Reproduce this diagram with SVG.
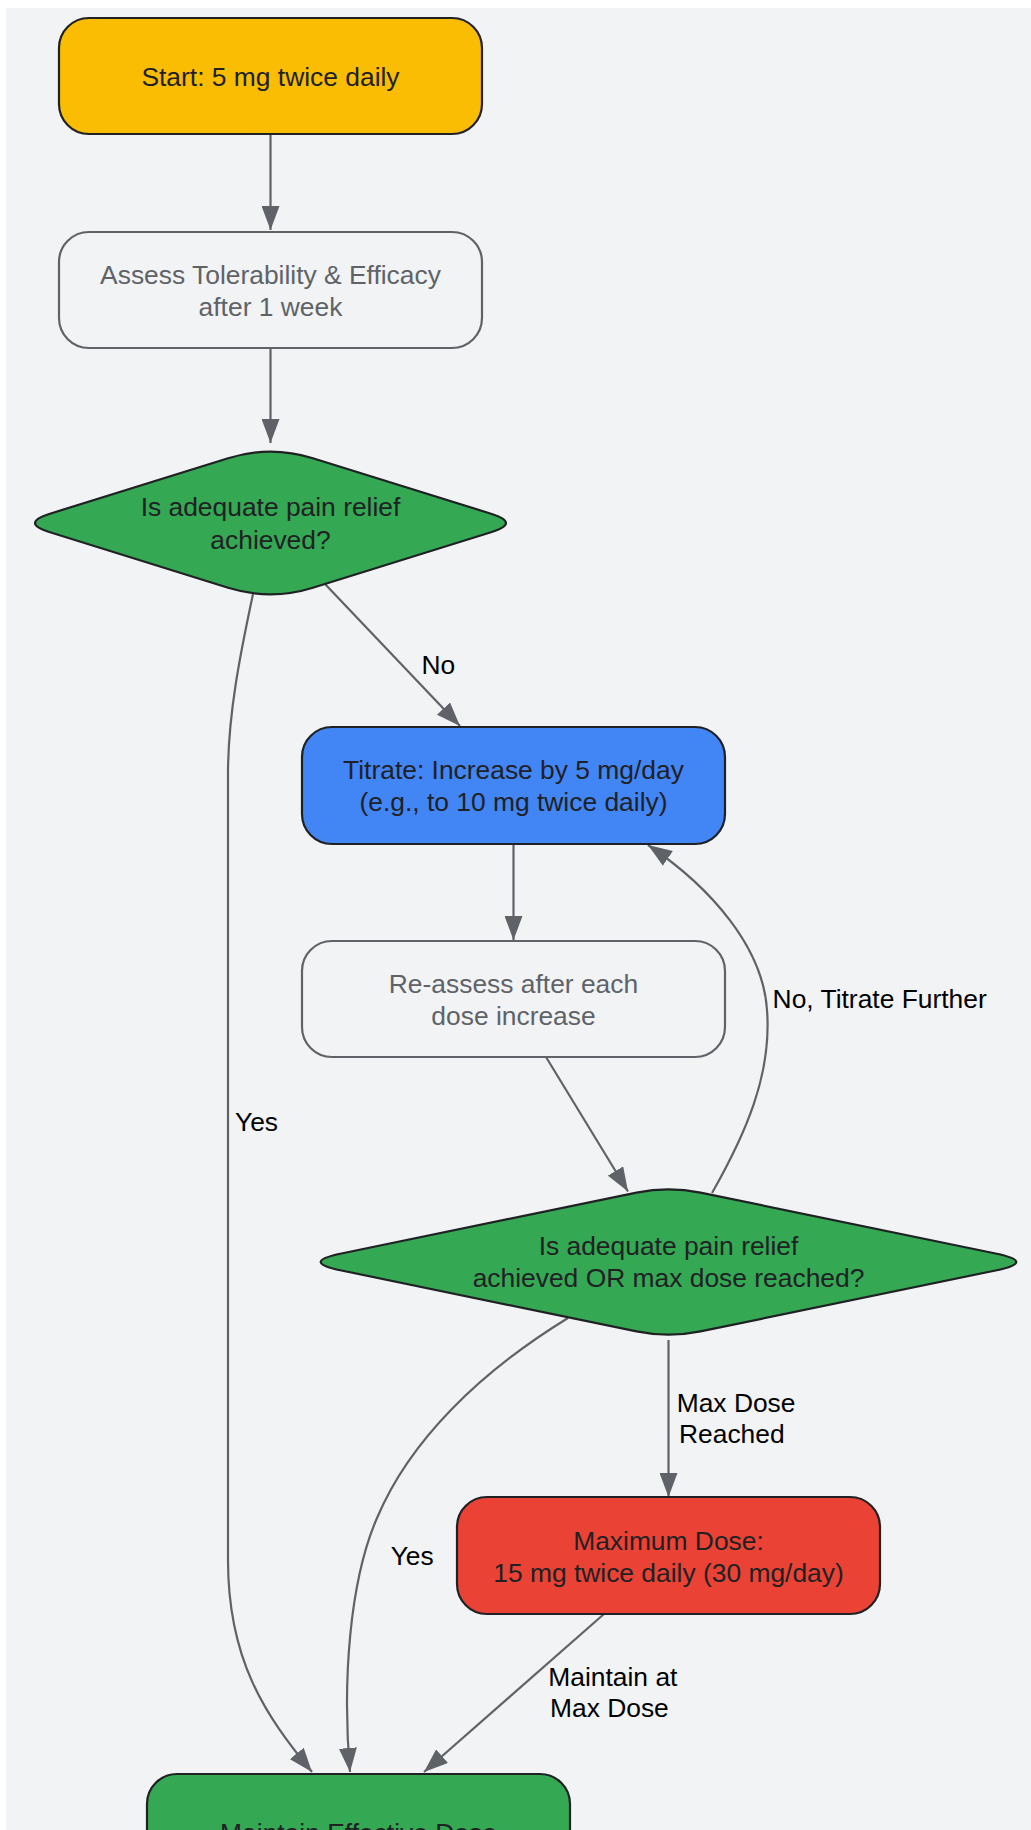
<svg xmlns="http://www.w3.org/2000/svg" width="1031" height="1830" viewBox="0 0 1031 1830">
<defs>
<style>
.t{font-family:"Liberation Sans",Arial,Helvetica,sans-serif;font-size:26.4px;text-anchor:middle;fill:#202124}
.g{fill:#5f6368}
.el{font-family:"Liberation Sans",Arial,Helvetica,sans-serif;font-size:26.4px;fill:#000}
.box{stroke:#202124;stroke-width:2.2}
.pale{fill:#f1f3f4;stroke:#5f6368;stroke-width:2.2}
.edge{fill:none;stroke:#5f6368;stroke-width:2.2;marker-end:url(#ah)}
</style>
<marker id="ah" markerUnits="userSpaceOnUse" markerWidth="24" markerHeight="18" refX="24" refY="9" orient="auto">
<path d="M0,0 L24,9 L0,18 Z" fill="#5f6368"/>
</marker>
</defs>
<rect x="0" y="0" width="1031" height="1830" fill="#ffffff"/>
<rect x="6" y="8" width="1025" height="1822" fill="#f1f3f4"/>

<g id="connectors">
<path class="edge" d="M270.5 134 L270.5 230"/>
<path class="edge" d="M270.5 348 L270.5 443"/>
<path class="edge" d="M325 584 L460 726"/>
<path class="edge" d="M253 594 C240 655 228 715 228 774 L228 1560 C228 1660 265 1715 312 1772"/>
<path class="edge" d="M513.5 844 L513.5 940"/>
<path class="edge" d="M546 1057 L628 1191.5"/>
<path class="edge" d="M712 1193 C745 1135 772 1075 767 1010 C763 948 712 888 648 845"/>
<path class="edge" d="M668.5 1340 L668.5 1497"/>
<path class="edge" d="M568 1318 C480 1372 410 1440 377 1518 C350 1580 342 1680 350 1772"/>
<path class="edge" d="M604 1614 L424 1772"/>
<text class="el" x="421.5" y="673.6">No</text>
<text class="el" x="235" y="1131">Yes</text>
<text class="el" x="772.6" y="1008">No, Titrate Further</text>
<text class="el" x="676.7" y="1411.7">Max Dose</text>
<text class="el" x="679" y="1443">Reached</text>
<text class="el" x="390.7" y="1565">Yes</text>
<text class="el" x="548.3" y="1685.7">Maintain at</text>
<text class="el" x="550" y="1717">Max Dose</text>
</g>

<g id="start">
<rect class="box" x="59" y="18" width="423" height="116" rx="30" ry="30" fill="#fbbc04"/>
<text class="t" x="270.5" y="86">Start: 5 mg twice daily</text>
</g>

<g id="assess">
<rect class="pale" x="59" y="232" width="423" height="116" rx="30" ry="30"/>
<text class="t g" x="270.5" y="283.5">Assess Tolerability &amp; Efficacy</text>
<text class="t g" x="270.5" y="315.5">after 1 week</text>
</g>

<g id="decision1">
<path class="box" fill="#34a853" d="M228.1 458.2 Q270.5 445 312.9 458.2 L491 513.7 Q521 523 491 532.3 L312.9 587.8 Q270.5 601 228.1 587.8 L50 532.3 Q20 523 50 513.7 Z"/>
<text class="t" x="270.5" y="516">Is adequate pain relief</text>
<text class="t" x="270.5" y="548.5">achieved?</text>
</g>

<g id="titrate">
<rect class="box" x="302" y="727" width="423" height="117" rx="30" ry="30" fill="#4285f4"/>
<text class="t" x="513.5" y="778.5">Titrate: Increase by 5 mg/day</text>
<text class="t" x="513.5" y="810.5">(e.g., to 10 mg twice daily)</text>
</g>

<g id="reassess">
<rect class="pale" x="302" y="941" width="423" height="116" rx="30" ry="30"/>
<text class="t g" x="513.5" y="992.5">Re-assess after each</text>
<text class="t g" x="513.5" y="1024.5">dose increase</text>
</g>

<g id="decision2">
<path class="box" fill="#34a853" d="M636.5 1192.6 Q668.5 1186 700.5 1192.6 L995.6 1253.5 Q1037 1262 995.6 1270.5 L700.5 1331.4 Q668.5 1338 636.5 1331.4 L341.4 1270.5 Q300 1262 341.4 1253.5 Z"/>
<text class="t" x="668.5" y="1255">Is adequate pain relief</text>
<text class="t" x="668.5" y="1287">achieved OR max dose reached?</text>
</g>

<g id="maxdose">
<rect class="box" x="457" y="1497" width="423" height="117" rx="30" ry="30" fill="#ea4335"/>
<text class="t" x="668.5" y="1550">Maximum Dose:</text>
<text class="t" x="668.5" y="1581.5">15 mg twice daily (30 mg/day)</text>
</g>

<g id="maintain">
<rect class="box" x="147" y="1774" width="423" height="116" rx="30" ry="30" fill="#34a853"/>
<text class="t" x="358.5" y="1841.5">Maintain Effective Dose</text>
</g>
</svg>
